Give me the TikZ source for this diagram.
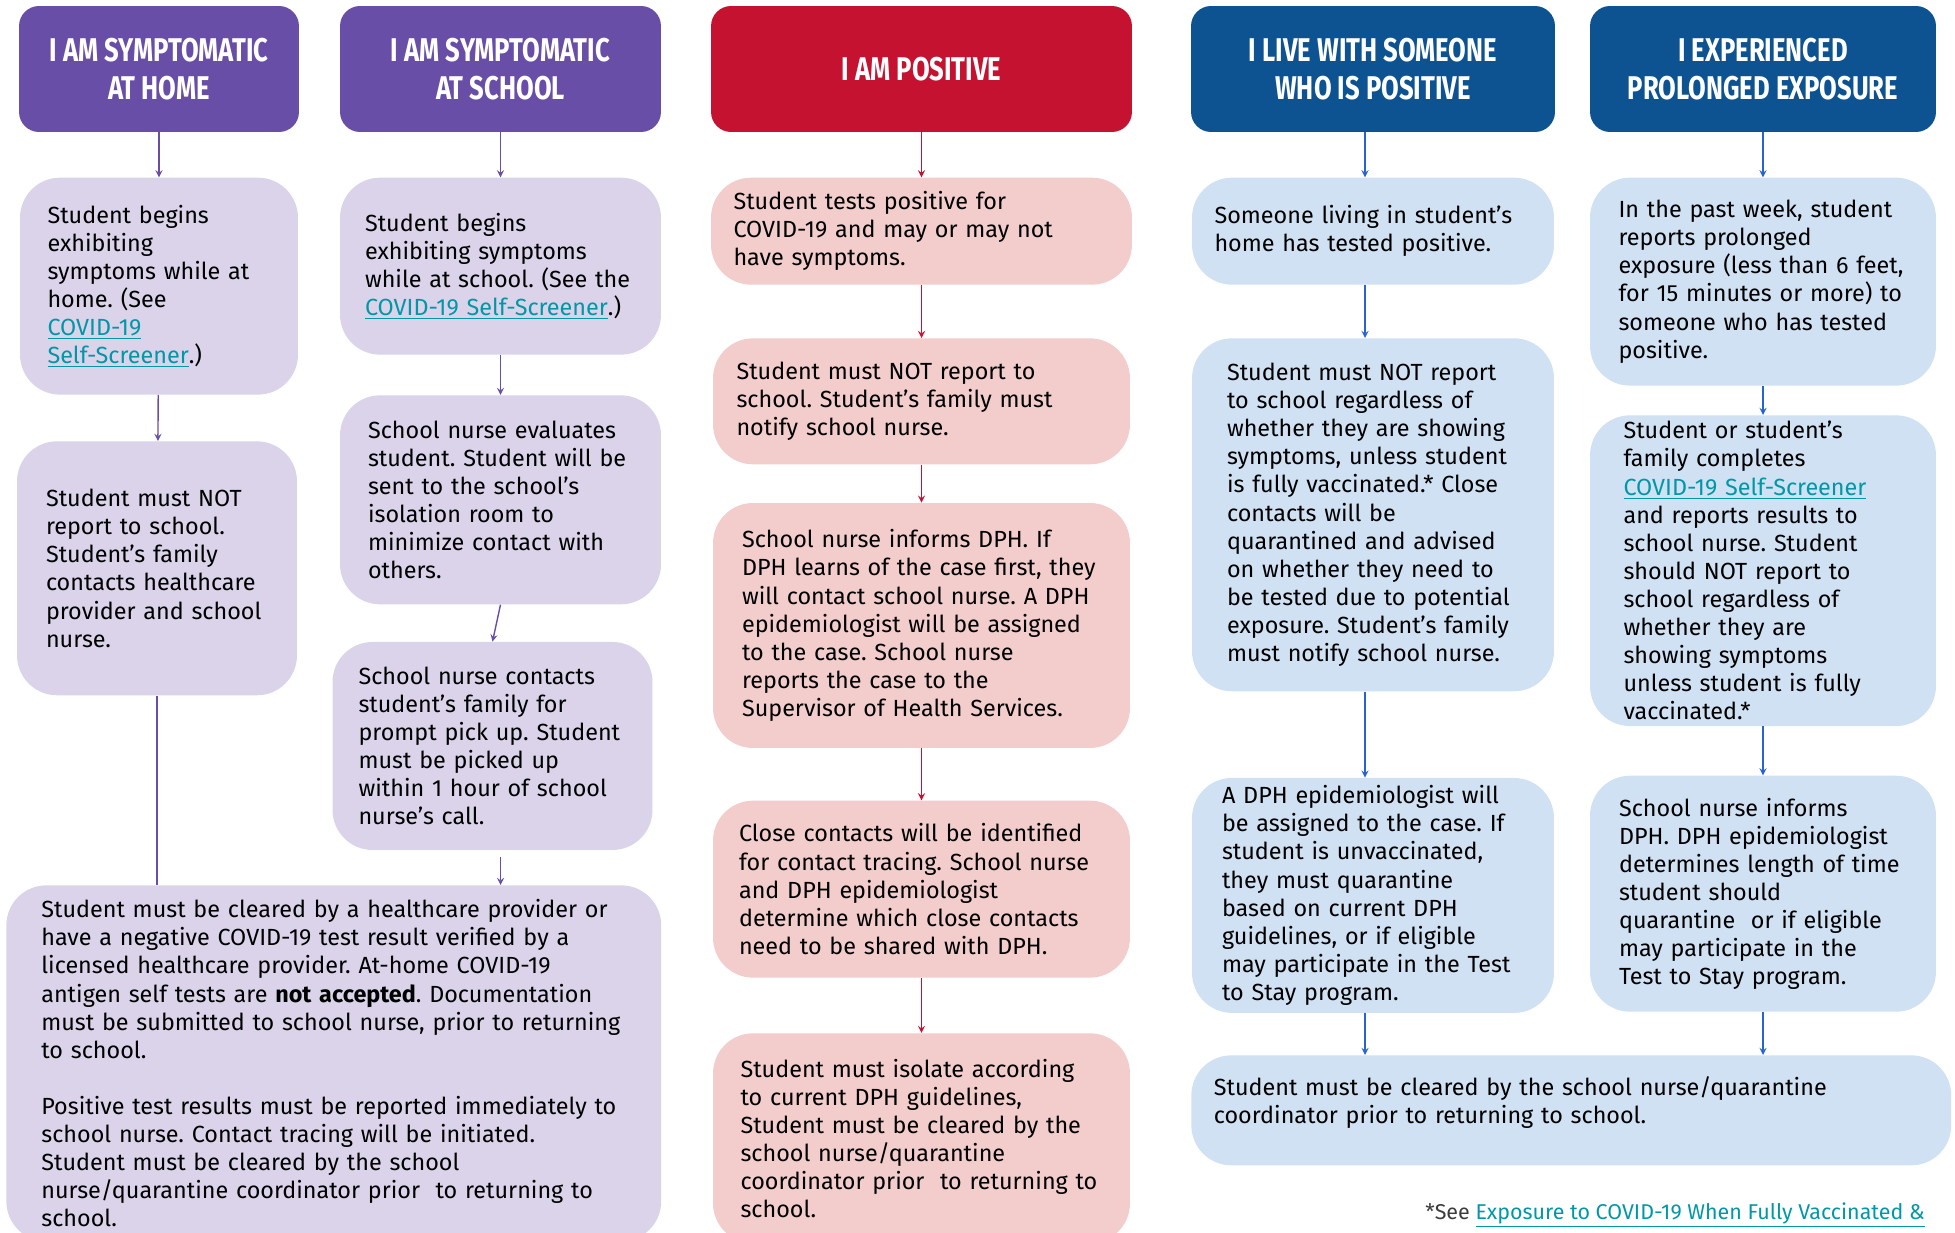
\documentclass[tikz,border=0pt]{standalone}
\usepackage{fontspec}
\setmainfont{Fira Sans}
\newfontfamily\headfont{Fira Sans}[FakeStretch=0.78]
\usepackage{tikz}
\usetikzlibrary{positioning,arrows}
\definecolor{purpleH}{RGB}{104,78,166}
\definecolor{purpleL}{RGB}{218,211,233}
\definecolor{redH}{RGB}{196,18,48}
\definecolor{redL}{RGB}{243,204,204}
\definecolor{blueH}{RGB}{13,82,145}
\definecolor{blueL}{RGB}{207,225,242}
\definecolor{blueA}{RGB}{38,100,210}
\definecolor{linkc}{RGB}{0,151,167}
\definecolor{noteg}{RGB}{60,60,60}
\newcommand{\lnk}[1]{\textcolor{linkc}{\underline{#1}}}
\tikzstyle{arrP} = [line width=0.8pt,->,>=stealth,draw=purpleH]
\tikzstyle{arrR} = [line width=0.8pt,->,>=stealth,draw=redH]
\tikzstyle{arrB} = [line width=0.8pt,->,>=stealth,draw=blueA]
\frenchspacing
\hyphenpenalty=10000
\exhyphenpenalty=10000

\begin{document}
\begin{tikzpicture}[x=0.02cm,y=0.02cm]
\tikzset{%
	head/.style = { rectangle, rounded corners=0.4cm, text=white, align=center, minimum height=2.52cm, font=\headfont\bfseries\fontsize{18.7}{21.4}\selectfont },
	card/.style = { rectangle, rounded corners=0.8cm, align=left, font=\fontsize{13.3}{16}\selectfont }
}
\useasboundingbox (0,0) rectangle (1955,-1233);

\node(h1) [head, fill=purpleH, minimum width=5.6cm] at (159,-69) {I AM SYMPTOMATIC\\AT HOME};
\node(h2) [head, fill=purpleH, minimum width=6.42cm] at (500.5,-69) {I AM SYMPTOMATIC\\AT SCHOOL};
\node(h3) [head, fill=redH, minimum width=8.42cm] at (921.5,-69) {I AM POSITIVE};
\node(h4) [head, fill=blueH, minimum width=7.28cm] at (1373,-69) {I LIVE WITH SOMEONE\\WHO IS POSITIVE};
\node(h5) [head, fill=blueH, minimum width=6.92cm] at (1763,-69) {I EXPERIENCED\\PROLONGED EXPOSURE};

% symptomatic at home
\node(s1) [card, fill=purpleL, inner xsep=0.55cm, text width=4.46cm, minimum height=4.34cm, below=0.9cm of h1] {Student begins\\exhibiting\\symptoms while at\\home. (See\\\lnk{COVID-19}\\\lnk{Self-Screener}.)};
\node(s2) [card, fill=purpleL, inner xsep=0.58cm, text width=4.44cm, minimum height=5.08cm, below=0.92cm of s1, xshift=-0.04cm] {Student must NOT\\report to school.\\Student’s family\\contacts healthcare\\provider and school\\nurse.};

% symptomatic at school
\node(t1) [card, fill=purpleL, inner xsep=0.5cm, text width=5.42cm, minimum height=3.54cm, below=0.9cm of h2] {Student begins\\exhibiting symptoms\\while at school. (See the\\\lnk{COVID-19 Self-Screener}.)};
\node(t2) [card, fill=purpleL, inner xsep=0.56cm, text width=5.3cm, minimum height=4.18cm, below=0.8cm of t1] {School nurse evaluates\\student. Student will be\\sent to the school’s\\isolation room to\\minimize contact with\\others.};
\node(t3) [card, fill=purpleL, inner xsep=0.52cm, text width=5.36cm, minimum height=4.16cm, below=0.74cm of t2, xshift=-0.16cm] {School nurse contacts\\student’s family for\\prompt pick up. Student\\must be picked up\\within 1 hour of school\\nurse’s call.};

\node(done1) [card, fill=purpleL, anchor=north west, inner xsep=0.7cm, text width=11.7cm, minimum height=7.12cm] at (6,-885) {Student must be cleared by a healthcare provider or\\have a negative COVID-19 test result verified by a\\licensed healthcare provider. At-home COVID-19\\antigen self tests are \textbf{not accepted}. Documentation\\must be submitted to school nurse, prior to returning\\to school.\\[16pt]Positive test results must be reported immediately to\\school nurse. Contact tracing will be initiated.\\Student must be cleared by the school\\nurse/quarantine coordinator prior \ to returning to\\school.};

% positive
\node(r1) [card, fill=redL, inner xsep=0.45cm, text width=7.52cm, minimum height=2.14cm, below=0.9cm of h3] {Student tests positive for\\COVID-19 and may or may not\\have symptoms.};
\node(r2) [card, fill=redL, inner xsep=0.47cm, text width=7.4cm, minimum height=2.52cm, below=1.06cm of r1] {Student must NOT report to\\school. Student’s family must\\notify school nurse.};
\node(r3) [card, fill=redL, inner xsep=0.58cm, text width=7.18cm, minimum height=4.9cm, below=0.76cm of r2] {School nurse informs DPH. If\\DPH learns of the case first, they\\will contact school nurse. A DPH\\epidemiologist will be assigned\\to the case. School nurse\\reports the case to the\\Supervisor of Health Services.};
\node(r4) [card, fill=redL, inner xsep=0.52cm, text width=7.3cm, minimum height=3.54cm, below=1.04cm of r3] {Close contacts will be identified\\for contact tracing. School nurse\\and DPH epidemiologist\\determine which close contacts\\need to be shared with DPH.};
\node(r5) [card, fill=redL, inner xsep=0.55cm, text width=7.24cm, minimum height=4.2cm, below=1.1cm of r4] {Student must isolate according\\to current DPH guidelines,\\Student must be cleared by the\\school nurse/quarantine\\coordinator prior \ to returning to\\school.};

% live with someone
\node(l1) [card, fill=blueL, inner xsep=0.45cm, text width=6.34cm, minimum height=2.14cm, below=0.9cm of h4] {Someone living in student's\\home has tested positive.};
\node(l2) [card, fill=blueL, inner xsep=0.7cm, text width=5.84cm, minimum height=7.06cm, below=1.06cm of l1] {Student must NOT report\\to school regardless of\\whether they are showing\\symptoms, unless student\\is fully vaccinated.* Close\\contacts will be\\quarantined and advised\\on whether they need to\\be tested due to potential\\exposure. Student’s family\\must notify school nurse.};
\node(l3) [card, fill=blueL, inner xsep=0.6cm, text width=6.04cm, minimum height=4.7cm, below=1.72cm of l2] {A DPH epidemiologist will\\be assigned to the case. If\\student is unvaccinated,\\they must quarantine\\based on current DPH\\guidelines, or if eligible\\may participate in the Test\\to Stay program.};

% prolonged exposure
\node(e1) [card, fill=blueL, inner xsep=0.57cm, text width=5.78cm, minimum height=4.16cm, below=0.9cm of h5] {In the past week, student\\reports prolonged\\exposure (less than 6 feet,\\for 15 minutes or more) to\\someone who has tested\\positive.};
\node(e2) [card, fill=blueL, inner xsep=0.67cm, text width=5.58cm, minimum height=6.1cm, below=0.58cm of e1] {Student or student’s\\family completes\\\lnk{COVID-19 Self-Screener}\\and reports results to\\school nurse. Student\\should NOT report to\\school regardless of\\whether they are\\showing symptoms\\unless student is fully\\vaccinated.*};
\node(e3) [card, fill=blueL, inner xsep=0.58cm, text width=5.76cm, minimum height=4.72cm, below=0.98cm of e2] {School nurse informs\\DPH. DPH epidemiologist\\determines length of time\\student should\\quarantine \ or if eligible\\may participate in the\\Test to Stay program.};

\node(done2) [card, fill=blueL, anchor=north west, inner xsep=0.45cm, text width=14.3cm, minimum height=2.2cm] at (1191,-1055) {Student must be cleared by the school nurse/quarantine\\coordinator prior to returning to school.\\[-4pt]\mbox{}};

\node(note) [anchor=base east, inner sep=0pt, text=noteg, font=\fontsize{12.2}{15}\selectfont] at (1925,-1219) {*See \lnk{Exposure to COVID-19 When Fully Vaccinated \&}};

\draw [arrP] (h1) -- (s1);
\draw [arrP] (s1) -- (s2);
\draw [line width=0.8pt, draw=purpleH] (s2.south) -- (done1.north -| s2.south);
\draw [arrP] (h2) -- (t1);
\draw [arrP] (t1) -- (t2);
\draw [arrP] (t2.south) -- (t3.north);
\draw [arrP, shorten <=0.14cm] ([xshift=0.16cm]t3.south) coordinate (p1) -- (done1.north -| p1);
\draw [arrR] (h3) -- (r1);
\draw [arrR] (r1) -- (r2);
\draw [arrR] (r2) -- (r3);
\draw [arrR] (r3) -- (r4);
\draw [arrR] (r4) -- (r5);
\draw [arrB] ([xshift=-0.16cm]h4.south) coordinate (p1) -- (l1.north -| p1);
\draw [arrB] ([xshift=-0.16cm]l1.south) coordinate (p1) -- (l2.north -| p1);
\draw [arrB] ([xshift=-0.16cm]l2.south) coordinate (p1) -- (l3.north -| p1);
\draw [arrB] ([xshift=-0.16cm]l3.south) coordinate (p1) -- (done2.north -| p1);
\draw [arrB] (h5) -- (e1);
\draw [arrB] (e1) -- (e2);
\draw [arrB] (e2) -- (e3);
\draw [arrB] (e3.south) -- (done2.north -| e3.south);
\end{tikzpicture}
\end{document}
